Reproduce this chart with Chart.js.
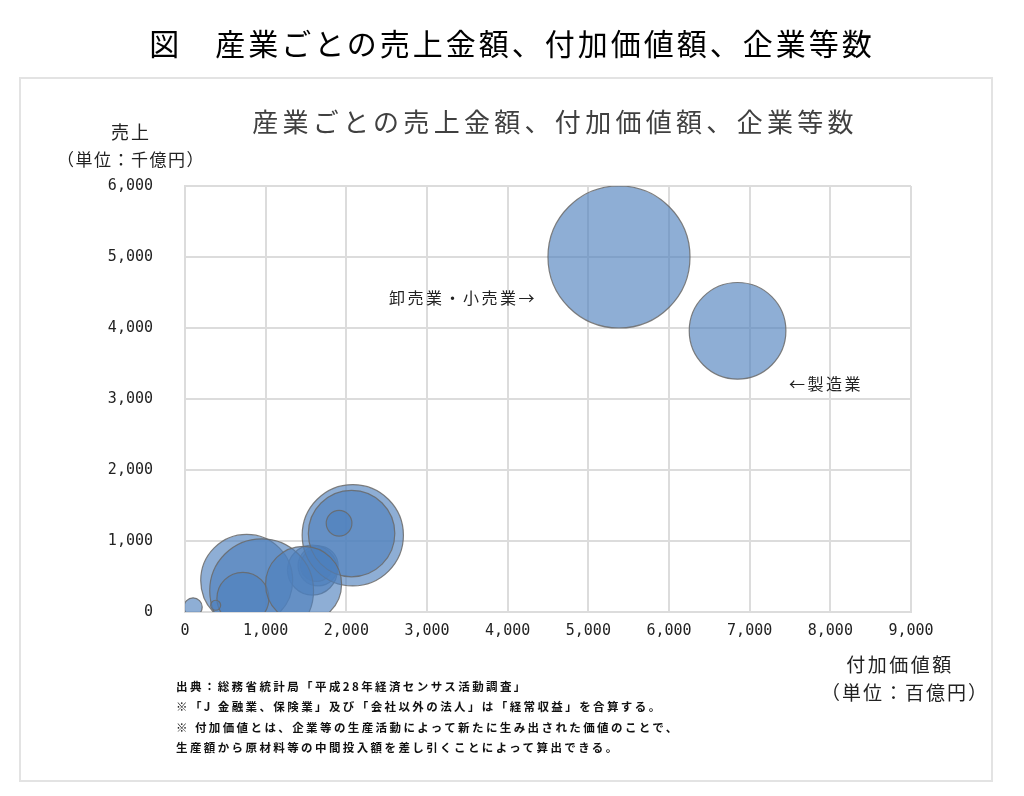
<!DOCTYPE html>
<html lang="ja">
<head>
<meta charset="utf-8">
<script src="https://cdn.jsdelivr.net/npm/chart.js@4.4.1/dist/chart.umd.min.js"></script>
<style>
  html, body { margin: 0; padding: 0; background: #fff; }
  body { width: 1024px; height: 796px; position: relative; overflow: hidden;
         font-family: "Noto Sans CJK JP", "Noto Sans", sans-serif; color: #000; }
  .abs { position: absolute; white-space: nowrap; }
  #frame { position: absolute; left: 19px; top: 77px; width: 970px; height: 701px;
           border: 2px solid #e3e3e3; }
  #wrap { position: absolute; left: 0; top: 0; width: 1024px; height: 796px; }
  #chart { display: block; width: 1024px; height: 796px; }
  .c { transform: translate(-50%, -50%); }
  .foot { left: 176px; font-size: 11.5px; font-weight: 700; letter-spacing: 2.4px; color: #111; transform: translateY(-50%); }
</style>
</head>
<body>
<div id="frame"></div>
<div id="wrap"><canvas id="chart" width="1024" height="796"></canvas></div>

<div class="abs c" style="left:512px; top:42px; font-size:30px; letter-spacing:3px;">図　産業ごとの売上金額、付加価値額、企業等数</div>
<div class="abs c" style="left:555px; top:120px; font-size:26px; letter-spacing:4.3px; color:#404040;">産業ごとの売上金額、付加価値額、企業等数</div>

<div class="abs c" style="left:131px; top:131px; font-size:18px; letter-spacing:2px; color:#222;">売上</div>
<div class="abs c" style="left:131px; top:158px; font-size:17px; letter-spacing:1.5px; color:#222;">（単位：千億円）</div>

<div class="abs c" style="left:900px; top:663px; font-size:19px; letter-spacing:2.5px; color:#222;">付加価値額</div>
<div class="abs c" style="left:905px; top:691px; font-size:19px; letter-spacing:2px; color:#222;">（単位：百億円）</div>

<div class="abs" style="left:389px; top:297px; transform:translateY(-50%); font-size:16px; letter-spacing:2.5px; color:#222;">卸売業・小売業→</div>
<div class="abs" style="left:789px; top:383px; transform:translateY(-50%); font-size:16px; letter-spacing:2.5px; color:#222;">←製造業</div>

<div class="abs foot" style="top:686px;">出典：総務省統計局「平成28年経済センサス活動調査」</div>
<div class="abs foot" style="top:706px;">※「J 金融業、保険業」及び「会社以外の法人」は「経常収益」を合算する。</div>
<div class="abs foot" style="top:727px;">※ 付加価値とは、企業等の生産活動によって新たに生み出された価値のことで、</div>
<div class="abs foot" style="top:747px;">生産額から原材料等の中間投入額を差し引くことによって算出できる。</div>

<script>
// ---- data ----
const industries = [
  "運輸業・郵便業", "情報通信業", "サービス業（他に分類されないもの）",
  "卸売業・小売業", "製造業", "建設業", "医療・福祉", "金融業・保険業",
  "生活関連サービス業・娯楽業", "宿泊業・飲食サービス業", "教育・学習支援業",
  "不動産業・物品賃貸業", "農林漁業", "複合サービス事業"
];
// 付加価値額（百億円）
const valueAdded = [1650, 1630, 1580, 5380, 6850, 2080, 2065, 1910, 765, 950, 718, 1470, 100, 380];
// 売上（千億円）
const sales      = [650, 656, 590, 5000, 3960, 1080, 1105, 1250, 445, 300, 193, 390, 70, 95];
// 企業等数
const firms      = [67000, 43000, 104000, 842000, 390000, 428000, 312000, 27500, 353000, 450000, 113000, 241000, 14000, 4200];

const xTicks = [0, 1000, 2000, 3000, 4000, 5000, 6000, 7000, 8000, 9000];
const yTicks = [0, 1000, 2000, 3000, 4000, 5000, 6000];

// bubble area proportional to firm count
const SIZE_SCALE = 0.0774;

const points = industries.map((name, i) => ({
  x: valueAdded[i], y: sales[i], r: Math.sqrt(firms[i]) * SIZE_SCALE, label: name
}));

const fmt = v => Number(v).toLocaleString('en-US');
const tickFont = { family: "'DejaVu Sans Mono', monospace", size: 15 };

new Chart(document.getElementById('chart'), {
  type: 'bubble',
  data: {
    datasets: [{
      label: '企業等数',
      data: points,
      backgroundColor: 'rgba(79,129,189,0.64)',
      borderColor: 'rgba(105,105,105,0.85)',
      borderWidth: 1.2,
      hoverBorderWidth: 1.2
    }]
  },
  options: {
    responsive: false,
    maintainAspectRatio: false,
    animation: false,
    devicePixelRatio: 1,
    layout: { padding: { left: 85, right: 113, top: 186, bottom: 144 } },
    plugins: { legend: { display: false }, tooltip: { enabled: false }, title: { display: false } },
    scales: {
      x: {
        type: 'linear', min: 0, max: 9000,
        afterBuildTicks: s => { s.ticks = xTicks.map(v => ({ value: v })); },
        afterFit: s => { s.height = 40; s.paddingLeft = 0; s.paddingRight = 0; },
        grid: { color: '#dcdcdc', lineWidth: 2, drawTicks: false },
        border: { color: '#dcdcdc', width: 2 },
        ticks: { padding: 10, color: '#222', font: tickFont, maxRotation: 0, callback: v => fmt(v) }
      },
      y: {
        type: 'linear', min: 0, max: 6000,
        afterBuildTicks: s => { s.ticks = yTicks.map(v => ({ value: v })); },
        afterFit: s => { s.width = 100; s.paddingTop = 0; s.paddingBottom = 0; },
        grid: { color: '#dcdcdc', lineWidth: 2, drawTicks: false },
        border: { color: '#dcdcdc', width: 2 },
        ticks: { padding: 32, color: '#222', font: tickFont, callback: v => fmt(v) }
      }
    }
  }
});
</script>
</body>
</html>
